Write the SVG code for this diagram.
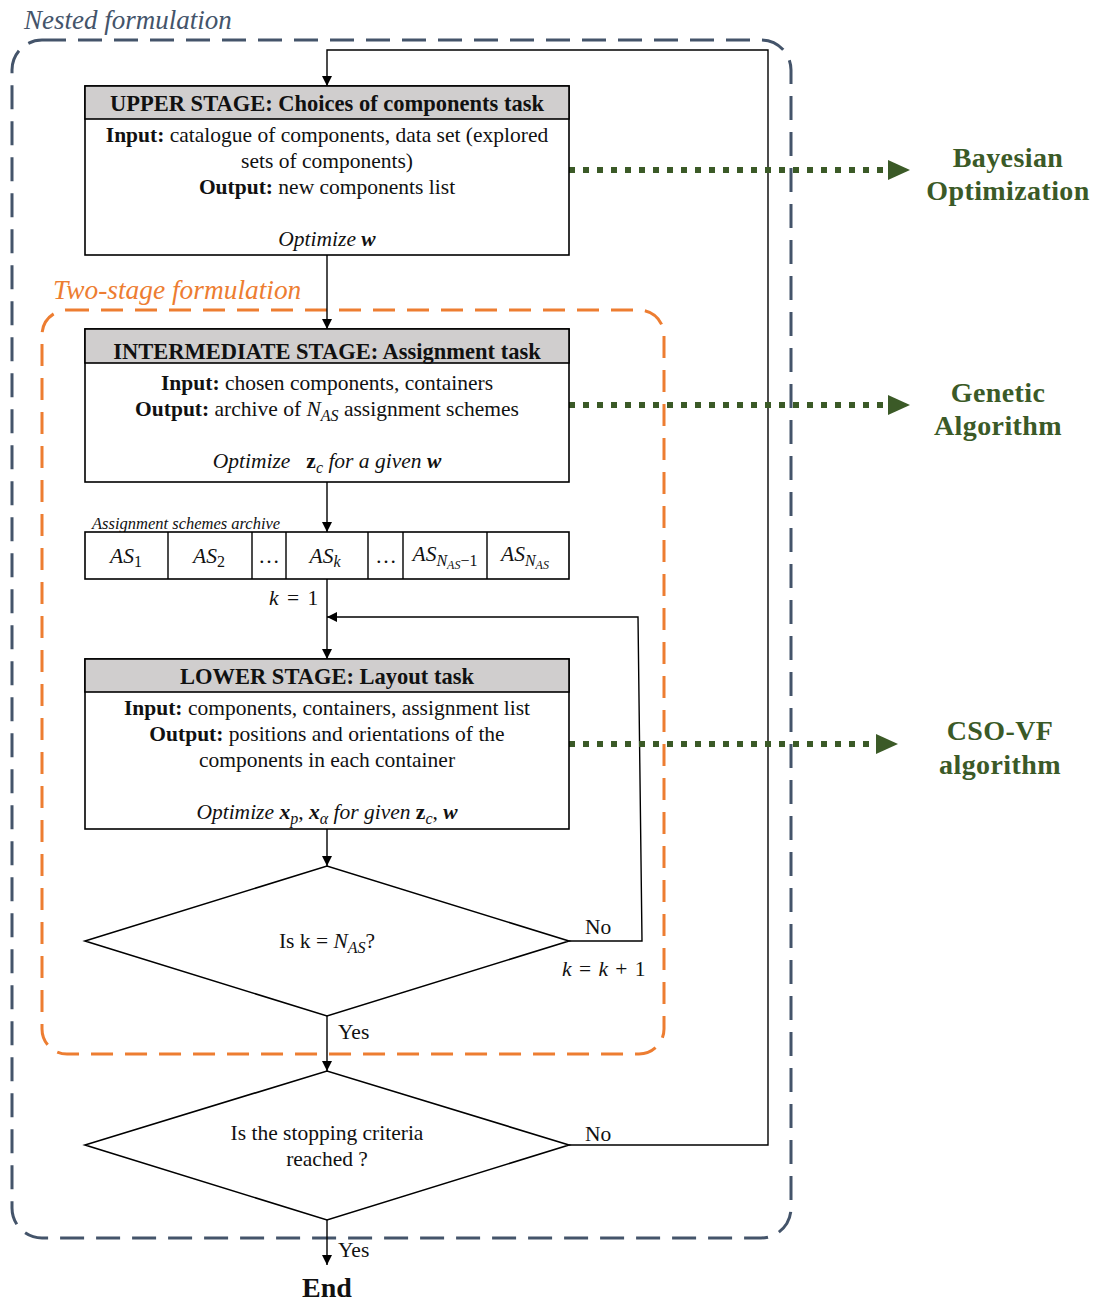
<svg xmlns="http://www.w3.org/2000/svg" width="1100" height="1305" viewBox="0 0 1100 1305">
<defs>
<marker id="ah" viewBox="0 0 10 10" refX="10" refY="5" markerWidth="10" markerHeight="10" markerUnits="userSpaceOnUse" orient="auto">
<path d="M0,0 L10,5 L0,10 z" fill="#000"/>
</marker>
<marker id="gh" viewBox="0 0 22 20" refX="0" refY="10" markerWidth="22" markerHeight="20" markerUnits="userSpaceOnUse" orient="auto">
<path d="M0,0 L22,10 L0,20 z" fill="#3B5A27"/>
</marker>
<style>
text{font-family:"Liberation Serif","DejaVu Serif",serif;fill:#111;}
.t{font-size:21.5px;}
.h{font-size:22.5px;font-weight:bold;}
.b{font-weight:bold;}
.i{font-style:italic;}
.bi{font-style:italic;font-weight:bold;}
.s{font-size:16px;}
.ss{font-size:12px;}
.box{fill:#fff;stroke:#000;stroke-width:1.6;}
.hd{fill:#D0CECE;stroke:#000;stroke-width:1.6;}
.ln{fill:none;stroke:#000;stroke-width:1.4;}
.gd{fill:none;stroke:#3B5A27;stroke-width:6;stroke-dasharray:6 8;}
.gl{font-size:28px;font-weight:bold;fill:#3B5A27;letter-spacing:0.4px;}
.frame{fill:none;stroke:#44546A;stroke-width:3;stroke-dasharray:24 12;}
.oframe{fill:none;stroke:#ED7D31;stroke-width:3;stroke-dasharray:22 12;}
</style>
</defs>

<g id="nested-frame">
<rect class="frame" x="12" y="40" width="779" height="1198" rx="30"/>
<text x="24" y="29" class="i" style="font-size:27px;fill:#44546A">Nested formulation</text>
</g>
<g id="two-stage-frame">
<rect class="oframe" x="42" y="310" width="622" height="744" rx="25"/>
<text x="53" y="299" class="i" style="font-size:27.4px;fill:#ED7D31">Two-stage formulation</text>
</g>

<g id="connectors">
<path class="ln" d="M569,1145 L768,1145 L768,50 L327,50 L327,86" marker-end="url(#ah)"/>
<path class="ln" d="M327,255 L327,329" marker-end="url(#ah)"/>
<path class="ln" d="M327,482 L327,532" marker-end="url(#ah)"/>
<path class="ln" d="M327,579 L327,659" marker-end="url(#ah)"/>
<path class="ln" d="M569,941 L642,941 L638,617 L327,617" marker-end="url(#ah)"/>
<path class="ln" d="M327,829 L327,866" marker-end="url(#ah)"/>
<path class="ln" d="M327,1016 L327,1071" marker-end="url(#ah)"/>
<path class="ln" d="M327,1220 L327,1265" marker-end="url(#ah)"/>
<path class="gd" d="M569,170 L888,170" marker-end="url(#gh)"/>
<path class="gd" d="M569,405 L888,405" marker-end="url(#gh)"/>
<path class="gd" d="M569,744 L876,744" marker-end="url(#gh)"/>
<text x="562" y="976" class="t" style="word-spacing:2px"><tspan class="i">k</tspan> = <tspan class="i">k</tspan> + 1</text>
<text x="585" y="934" class="t">No</text>
<text x="585" y="1141" class="t">No</text>
<text x="338" y="1039" class="t">Yes</text>
<text x="338" y="1257" class="t">Yes</text>
<text x="269" y="605" class="t" style="word-spacing:3px"><tspan class="i">k</tspan> = 1</text>
</g>

<g id="upper-stage">
<rect class="box" x="85" y="86" width="484" height="169"/>
<rect class="hd" x="85" y="86" width="484" height="33"/>
<text x="327" y="111" class="h" text-anchor="middle">UPPER STAGE: Choices of components task</text>
<text x="327" y="142" class="t" text-anchor="middle"><tspan class="b">Input:</tspan> catalogue of components, data set (explored</text>
<text x="327" y="168" class="t" text-anchor="middle">sets of components)</text>
<text x="327" y="194" class="t" text-anchor="middle"><tspan class="b">Output:</tspan> new components list</text>
<text x="327" y="246" class="t" text-anchor="middle"><tspan class="i">Optimize </tspan><tspan class="bi"> w</tspan></text>
</g>

<g id="intermediate-stage">
<rect class="box" x="85" y="329" width="484" height="153"/>
<rect class="hd" x="85" y="329" width="484" height="34"/>
<text x="327" y="359" class="h" text-anchor="middle">INTERMEDIATE STAGE: Assignment task</text>
<text x="327" y="390" class="t" text-anchor="middle"><tspan class="b">Input:</tspan> chosen components, containers</text>
<text x="327" y="416" class="t" text-anchor="middle"><tspan class="b">Output:</tspan> archive of <tspan class="i">N</tspan><tspan class="i s" dy="5">AS</tspan><tspan dy="-5"> assignment schemes</tspan></text>
<text x="327" y="468" class="t" text-anchor="middle"><tspan class="i">Optimize</tspan><tspan class="b" dx="16">z</tspan><tspan class="i s" dy="5">c</tspan><tspan class="i" dy="-5"> for a given </tspan><tspan class="bi">w</tspan></text>
</g>

<g id="archive">
<text x="92" y="529" class="i" style="font-size:16.5px">Assignment schemes archive</text>
<rect class="box" x="85" y="532" width="484" height="47"/>
<path class="ln" d="M168,532 V579 M252,532 V579 M286,532 V579 M368,532 V579 M403,532 V579 M487,532 V579"/>
<text x="126" y="563" class="t" text-anchor="middle"><tspan class="i">AS</tspan><tspan class="s" dy="4">1</tspan></text>
<text x="209" y="563" class="t" text-anchor="middle"><tspan class="i">AS</tspan><tspan class="s" dy="4">2</tspan></text>
<text x="269" y="563" class="t" text-anchor="middle">…</text>
<text x="325" y="563" class="t" text-anchor="middle"><tspan class="i">AS</tspan><tspan class="i s" dy="4">k</tspan></text>
<text x="386" y="563" class="t" text-anchor="middle">…</text>
<text x="445" y="561" class="t" text-anchor="middle"><tspan class="i">AS</tspan><tspan class="i s" dy="5">N</tspan><tspan class="i ss" dy="3">AS</tspan><tspan class="s" dy="-3">−1</tspan></text>
<text x="525" y="561" class="t" text-anchor="middle"><tspan class="i">AS</tspan><tspan class="i s" dy="5">N</tspan><tspan class="i ss" dy="3">AS</tspan></text>
</g>

<g id="lower-stage">
<rect class="box" x="85" y="659" width="484" height="170"/>
<rect class="hd" x="85" y="659" width="484" height="33"/>
<text x="327" y="684" class="h" text-anchor="middle">LOWER STAGE: Layout task</text>
<text x="327" y="715" class="t" text-anchor="middle"><tspan class="b">Input:</tspan> components, containers, assignment list</text>
<text x="327" y="741" class="t" text-anchor="middle"><tspan class="b">Output:</tspan> positions and orientations of the</text>
<text x="327" y="767" class="t" text-anchor="middle">components in each container</text>
<text x="327" y="819" class="t" text-anchor="middle"><tspan class="i">Optimize </tspan><tspan class="bi">x</tspan><tspan class="i s" dy="5">p</tspan><tspan dy="-5">, </tspan><tspan class="bi">x</tspan><tspan class="i s" dy="5">α</tspan><tspan class="i" dy="-5"> for given  </tspan><tspan class="b">z</tspan><tspan class="i s" dy="5">c</tspan><tspan dy="-5">, </tspan><tspan class="bi">w</tspan></text>
</g>

<g id="decision-k">
<path class="box" d="M85,941 L327,866 L569,941 L327,1016 Z"/>
<text x="327" y="948" class="t" text-anchor="middle">Is k = <tspan class="i">N</tspan><tspan class="i s" dy="5">AS</tspan><tspan dy="-5">?</tspan></text>
</g>

<g id="decision-stop">
<path class="box" d="M85,1145 L327,1071 L569,1145 L327,1220 Z"/>
<text x="327" y="1140" class="t" text-anchor="middle">Is the stopping criteria</text>
<text x="327" y="1166" class="t" text-anchor="middle">reached ?</text>
</g>

<g id="end">
<text x="327" y="1297" text-anchor="middle" style="font-size:28px;font-weight:bold">End</text>
</g>

<g id="bayesian">
<text x="1008" y="167" class="gl" text-anchor="middle">Bayesian</text>
<text x="1008" y="200" class="gl" text-anchor="middle">Optimization</text>
</g>
<g id="genetic">
<text x="998" y="402" class="gl" text-anchor="middle">Genetic</text>
<text x="998" y="435" class="gl" text-anchor="middle">Algorithm</text>
</g>
<g id="cso-vf">
<text x="1000" y="740" class="gl" text-anchor="middle">CSO-VF</text>
<text x="1000" y="774" class="gl" text-anchor="middle">algorithm</text>
</g>
</svg>
